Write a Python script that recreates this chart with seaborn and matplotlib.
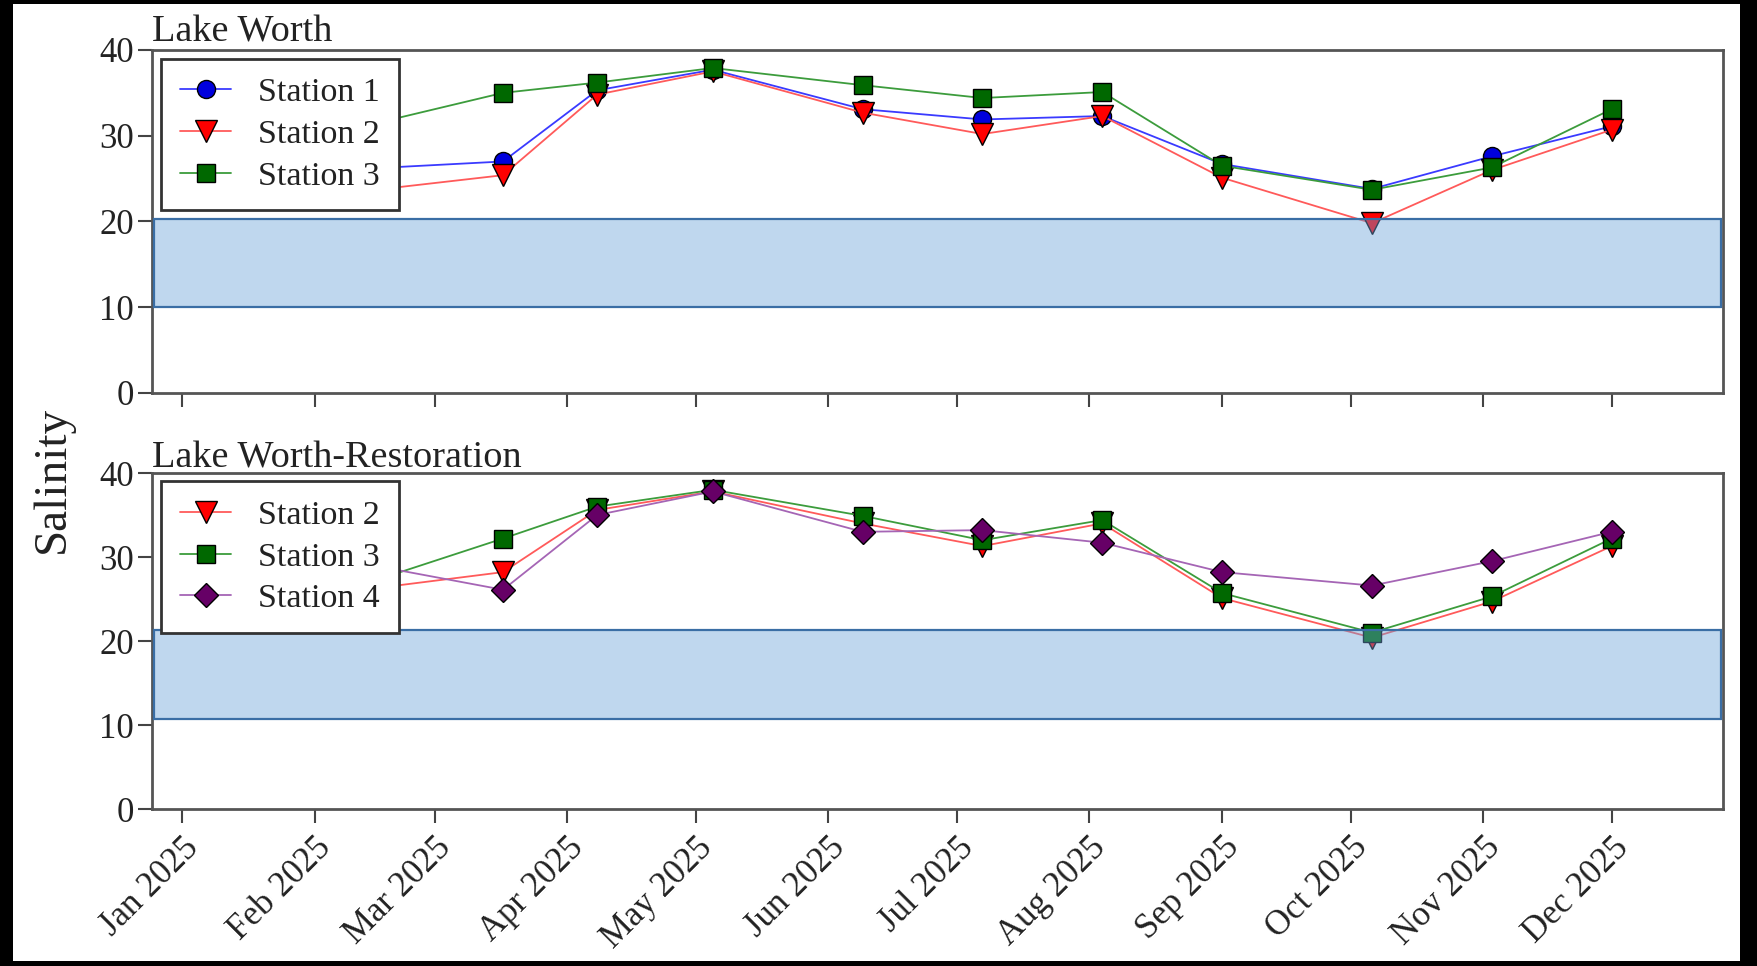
import matplotlib
matplotlib.use("Agg")
import matplotlib.pyplot as plt
import matplotlib.dates as mdates
from matplotlib.patches import Rectangle
import pandas as pd
import seaborn as sns

# sampling dates (first one sits behind the legend)
sample_dates = ["2025-02-03", "2025-03-17", "2025-04-08", "2025-05-05", "2025-06-09", "2025-07-07",
                "2025-08-04", "2025-09-01", "2025-10-06", "2025-11-03", "2025-12-01"]

# Lake Worth
lw_station1 = [25.9, 27.0, 35.3, 37.7, 33.1, 31.9, 32.3, 26.7, 23.8, 27.6, 31.1]
lw_station2 = [23.0, 25.4, 34.8, 37.5, 32.7, 30.2, 32.3, 25.1, 19.8, 26.0, 30.7]
lw_station3 = [30.0, 35.0, 36.2, 37.9, 35.9, 34.4, 35.1, 26.5, 23.7, 26.3, 33.1]

# Lake Worth-Restoration
lwr_station2 = [25.5, 28.2, 35.6, 37.8, 34.0, 31.3, 34.0, 25.1, 20.4, 24.7, 31.3]
lwr_station3 = [25.2, 32.2, 36.0, 38.0, 34.9, 32.0, 34.4, 25.7, 21.0, 25.3, 32.2]
lwr_station4 = [30.1, 26.1, 35.0, 37.8, 33.0, 33.2, 31.7, 28.2, 26.6, 29.5, 33.0]

# optimal salinity range for each site
lw_band = (10.0, 20.3)
lwr_band = (10.7, 21.3)

dates = pd.to_datetime(sample_dates)

styles = {
    "Station 1": dict(marker="o", markersize=13, color="#3a3aff", markerfacecolor="#0000dd"),
    "Station 2": dict(marker="v", markersize=16.5, color="#ff5a5a", markerfacecolor="#ff0000"),
    "Station 3": dict(marker="s", markersize=13.5, color="#3c9c3c", markerfacecolor="#006800"),
    "Station 4": dict(marker="D", markersize=12.5, color="#a565b5", markerfacecolor="#660066"),
}

sns.set_theme(style="white")
plt.rcParams["font.family"] = ["Liberation Serif", "DejaVu Serif"]
plt.rcParams["text.color"] = "#222222"
plt.rcParams["xtick.color"] = "#444444"
plt.rcParams["ytick.color"] = "#444444"
plt.rcParams["xtick.labelcolor"] = "#222222"
plt.rcParams["ytick.labelcolor"] = "#222222"

fig = plt.figure(figsize=(17.57, 9.66), dpi=100)
fig.patch.set_facecolor("black")
fig.patches.append(Rectangle((13 / 1757, 5 / 966), (1740 - 13) / 1757, (962 - 5) / 966,
                             transform=fig.transFigure, facecolor="white", edgecolor="none", zorder=-10))

ax1 = fig.add_axes([152 / 1757, 1 - 393 / 966, (1723 - 152) / 1757, (393 - 50) / 966])
ax2 = fig.add_axes([152 / 1757, 1 - 809 / 966, (1723 - 152) / 1757, (809 - 473) / 966], sharex=ax1)

panels = [
    (ax1, "Lake Worth", {"Station 1": lw_station1, "Station 2": lw_station2, "Station 3": lw_station3}, lw_band),
    (ax2, "Lake Worth-Restoration", {"Station 2": lwr_station2, "Station 3": lwr_station3, "Station 4": lwr_station4}, lwr_band),
]

for ax, title, series, band in panels:
    for name, vals in series.items():
        st = styles[name]
        sns.lineplot(x=dates, y=vals, ax=ax, label=name, linewidth=1.3, color=st["color"],
                     marker=st["marker"], markersize=st["markersize"],
                     markerfacecolor=st["markerfacecolor"], markeredgecolor="black",
                     markeredgewidth=1.0)
    # shaded target range, drawn over the lines like the original
    ax.axhspan(band[0], band[1], xmin=0.0015, xmax=0.9985, facecolor=(0.42, 0.64, 0.85, 0.43),
               edgecolor="#3a6ea5", linewidth=1.6, zorder=5)
    ax.set_ylim(0, 40)
    ax.set_yticks([0, 10, 20, 30, 40])
    ax.set_xlim(pd.Timestamp("2024-12-25"), pd.Timestamp("2025-12-27"))
    ax.set_xlabel("")
    ax.set_ylabel("")
    ax.set_title(title, loc="left", fontsize=27.5, pad=4)
    for sp in ax.spines.values():
        sp.set_color("#555555")
        sp.set_linewidth(2)
    ax.tick_params(axis="both", direction="out", length=10, width=1.5, labelsize=25, pad=3,
                   left=True, bottom=True)
    leg = ax.legend(loc="upper left", bbox_to_anchor=(0.006, 0.975), fontsize=24.5, frameon=True,
                    fancybox=False, framealpha=1, edgecolor="#333333", borderaxespad=0,
                    handlelength=1.5, handletextpad=0.8, labelspacing=0.32, borderpad=0.55)
    leg.get_frame().set_linewidth(2)
    leg.set_zorder(10)

ax1.xaxis.set_major_locator(mdates.MonthLocator())
ax1.xaxis.set_major_formatter(mdates.DateFormatter("%b %Y"))
plt.setp(ax1.get_xticklabels(), visible=False)
ax2.tick_params(axis="x", pad=6)
for lbl in ax2.get_xticklabels():
    lbl.set_rotation(45)
    lbl.set_ha("right")
    lbl.set_rotation_mode("anchor")

fig.text(53 / 1757, 1 - 479 / 966, "Salinity", rotation=90, fontsize=34, ha="center", va="center")

fig.savefig("out.png", dpi=100, facecolor=fig.get_facecolor())
